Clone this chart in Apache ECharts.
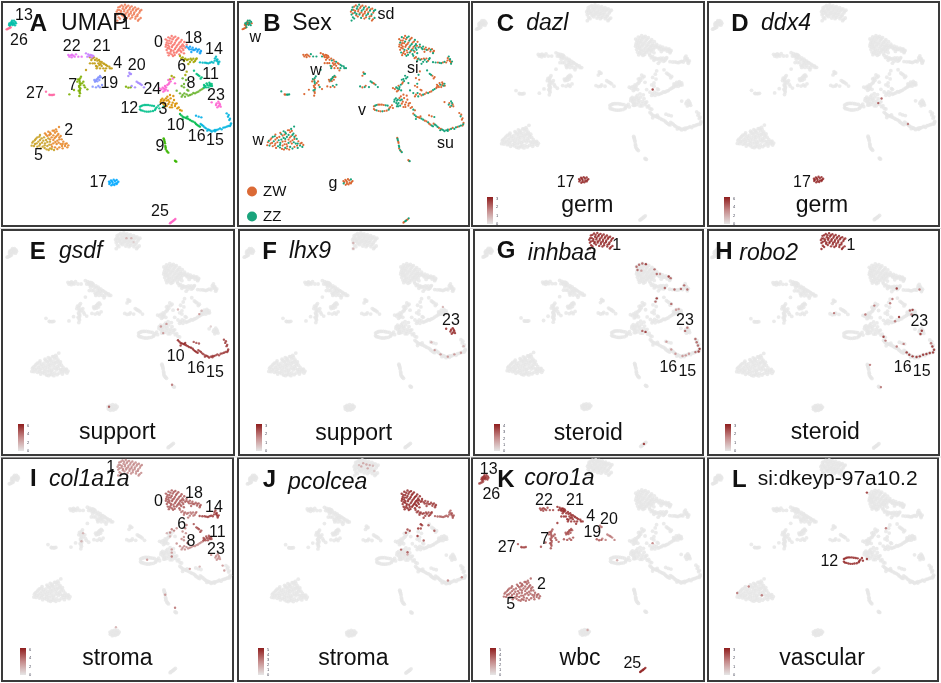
<!DOCTYPE html>
<html><head><meta charset="utf-8">
<style>html,body{margin:0;padding:0;background:#fff}#c{width:941px;height:683px}</style>
<script src="https://cdn.jsdelivr.net/npm/echarts@6/dist/echarts.min.js"></script>
</head><body><div id="c"></div>
<script>
// UMAP cells per cluster: flat x,y,sex (1 = ZW, 0 = ZZ)
const c0=[497,118,1,505,112,0,515,108,1,526,110,0,535,114,1,545,120,0,553,126,1,560,134,0,500,128,0,508,122,1,518,118,1,528,122,0,538,128,1,548,133,0,556,143,0,497,140,1,504,136,1,512,130,1,522,133,1,531,137,0,541,141,1,550,150,0,500,150,1,508,146,1,516,141,1,525,147,0,535,150,0,544,156,1,503,158,0,512,155,1,520,152,1,529,158,0,538,163,0,515,163,1,524,165,0,506,166,1,502,122,1,511,115,1,521,113,0,531,118,1,542,125,1,551,138,1,506,130,1,515,125,0,525,128,1,535,133,0,545,138,0,498,134,1,508,140,1,518,136,1,528,142,1,538,146,1,547,145,0,503,144,1,513,150,0,522,158,1,532,154,1,541,152,0,509,160,1,519,168,0,552,160,0];
const c1=[355,22,0,365,16,1,375,14,0,385,17,1,395,19,1,405,22,0,415,26,1,424,30,0,350,35,1,358,30,1,368,26,0,378,24,1,388,28,0,398,30,1,408,32,0,418,38,1,352,44,0,362,38,0,372,34,1,382,37,1,392,40,1,402,42,0,412,48,1,422,54,0,356,52,0,366,46,1,376,44,0,386,48,1,396,52,1,406,56,0,414,62,1,352,62,0,360,20,1,370,20,0,380,20,1,390,23,0,400,26,1,410,28,1,420,33,0,353,30,0,363,33,1,373,29,1,383,32,0,393,35,1,403,37,1,413,43,0,356,40,1,367,42,0,377,40,1,387,43,1,397,46,0,407,50,1,417,58,1,360,56,0,371,50,1,381,54,0,391,56,1];
const c2=[177,381,0,168,388,0,158,392,1,145,395,0,152,402,0,165,398,1,175,402,0,135,400,1,142,408,1,155,412,0,168,410,1,178,412,0,185,418,0,160,420,1,172,422,1,190,425,1,200,430,1,205,436,1,195,438,0,182,432,0,170,432,1,160,430,0,178,442,1,188,445,0,165,442,0,162,392,1,150,398,0,170,394,1,138,404,0,148,405,1,160,406,0,172,406,0,182,408,1,164,414,1,150,418,0,178,418,1,188,432,0,196,432,1,202,442,0,166,426,1,176,428,0,154,434,1,186,438,1,172,447,0,156,440,1];
const c3=[483,300,0,490,303,0,498,295,1,505,300,0,512,295,1,522,300,1,495,310,0,505,312,1,515,315,1,525,318,1,532,325,1,540,330,0,520,288,1,510,322,1,488,310,0,494,320,0,530,310,1,487,296,0,493,300,0,500,302,0,508,306,1,518,308,1,526,312,1,536,322,1,502,290,1,510,285,1,482,306,0,492,314,0,500,318,0,516,322,1,545,332,1];
const c4=[270,172,1,278,175,1,285,180,1,292,182,0,300,185,1,310,190,1,318,195,0,328,200,0,335,205,0,295,190,1,305,198,1,278,190,1,288,198,0,300,205,1,310,205,1,270,190,1,258,210,0,290,205,0,315,212,1,274,180,1,282,172,1,290,176,1,297,180,1,305,186,0,313,192,1,322,198,0,298,195,1,284,190,1,302,192,1,292,200,1,330,205,0,318,205,0];
const c5=[120,405,1,112,412,0,125,415,1,105,420,1,115,425,0,130,422,0,97,428,1,105,432,1,120,432,1,135,430,0,95,437,1,112,440,1,128,440,0,142,438,1,150,425,1,145,415,0,150,445,0,162,450,1,140,448,1,118,410,0,108,416,1,120,420,1,132,412,1,138,420,0,100,424,0,110,430,1,126,428,1,142,426,1,102,438,0,118,437,1,134,436,0,148,434,1,122,445,1,134,444,0,146,450,1,155,447,1];
const c6=[540,168,0,548,172,1,556,176,0,565,178,1,575,180,0,585,183,1,552,183,0,570,186,0,580,176,1,590,175,0,560,215,1,556,225,0,515,228,0,522,232,0,510,238,0,544,175,1,553,178,1,561,180,0,572,176,1,581,186,0,565,192,0,588,178,0];
const c7=[243,230,0,238,240,1,240,250,0,237,258,1,241,265,1,236,272,0,240,280,1,238,288,1,250,245,1,232,245,1,255,262,0,262,268,1,222,270,1,208,283,1,378,260,0,385,263,1,392,262,0,240,235,0,239,245,0,241,255,1,238,262,1,240,270,0,239,276,1,246,250,1,234,238,0,252,256,1];
const c8=[548,285,1,555,290,0,565,287,1,575,283,1,585,280,0,595,275,1,605,268,0,545,258,1,552,252,0,548,235,1,558,240,1,540,280,0,530,272,0,562,270,1,560,283,1,570,285,0,580,279,1,590,277,1,600,271,0,545,290,1,553,280,0,565,272,1,552,262,1,610,265,1];
const c9=[491,415,1,493,422,0,495,430,1,496,438,0,497,447,1,500,452,0,505,458,0,525,482,1,529,485,0,492,418,0,494,426,1,497,442,0,502,455,1,527,484,1];
const c10=[540,342,1,548,350,0,557,353,1,565,357,0,575,363,1,585,368,0,592,375,1,600,380,0,548,358,0,562,350,1,544,346,0,552,352,1,560,355,1,570,360,0,580,365,1,588,372,1,596,378,0];
const c11=[590,222,0,598,228,1,605,232,1,612,255,1,620,250,1,628,248,1,632,258,0,625,262,1,618,262,1,635,252,0,582,212,0,615,258,1,622,255,0,630,252,1,636,258,1,628,256,1,612,262,1,594,225,0,602,236,1];
const c12=[420,320,1,428,316,0,438,315,1,450,316,1,462,318,0,470,322,1,465,330,0,452,334,1,440,335,1,428,332,0,420,328,1,478,325,1,490,320,0,475,317,1,424,318,0,433,315,1,444,315,1,456,317,0,467,326,1,459,333,1,446,335,0,434,334,1,423,331,1];
const c13=[28,70,0,35,66,1,42,62,0,48,70,1,38,75,0,30,78,1,45,76,0,34,72,1,40,68,0,32,68,0,37,70,1,42,72,0,46,66,0,31,74,0,27,75,1,36,62,0];
const c14=[600,187,0,615,188,1,625,190,0,635,186,0,645,175,1,650,180,1,655,188,1,658,185,0,640,188,1,648,170,0,652,178,0,608,188,0,620,189,0,630,188,1,652,184,1,644,182,1,655,192,0];
const c15=[610,378,0,618,385,1,628,390,0,640,392,0,650,390,1,660,385,1,670,383,0,680,380,0,690,378,1,693,370,1,688,360,1,684,350,0,680,340,1,622,392,0,635,395,0,602,372,1,645,394,0,665,388,0,606,375,0,614,382,0,624,388,1,632,392,0,645,390,0,655,388,0,675,382,1,685,378,0,692,374,0,690,356,1,686,345,1];
const c16=[588,347,1,596,350,1,604,352,0];
const c17=[327,545,1,333,541,1,341,539,1,350,540,0,355,545,1,350,552,1,343,555,1,334,556,1,328,552,0,338,548,1,330,548,1,336,544,1,345,543,1,352,548,1,346,550,1,338,553,1];
const c18=[560,140,1,570,140,0,578,143,1,588,146,1,597,148,1,603,153,1,600,160,0,592,155,1,580,150,0,568,148,0,574,156,1,565,144,0,574,148,1,584,150,1,593,150,0,601,156,1];
const c19=[283,240,1,290,238,0,298,240,1,285,245,1,295,232,0,300,228,0,278,260,1,300,262,1,306,255,0,303,232,1,295,258,0,288,242,0,293,236,0,298,232,1,292,244,1,288,262,1];
const c20=[388,218,1,393,222,0,385,228,1,410,245,0,418,250,1,425,255,0,432,262,0,395,258,1,405,262,0,414,248,0,421,252,1,390,222,0];
const c21=[258,160,1,265,163,1,272,165,1,280,168,1,262,170,0,275,172,1,268,168,1,276,166,1];
const c22=[205,165,1,212,166,1,220,167,1,228,163,0,215,172,1,235,170,0,245,170,0,208,170,1,216,164,1,224,170,1];
const c23=[648,315,0,652,322,1,658,310,0,662,320,1,655,305,0,635,307,1,650,310,1,656,318,0,660,314,1];
const c24=[488,263,0,495,258,1,502,255,0,508,248,1,497,268,0,505,240,0,490,275,1,503,272,0,478,265,1,525,250,0,492,266,0,498,262,0,506,252,1,512,244,0,518,236,0,484,268,1,494,272,1];
const c25=[510,670,1,515,666,0,520,662,1,526,657,0,512,668,1,518,664,0,523,660,1];
const c26=[20,88,1,26,85,1,32,82,0,23,87,1,29,84,1];
const c27=[138,275,0,148,284,1,155,285,0,162,284,0,150,285,1,158,285,0];
const clusters=[c0,c1,c2,c3,c4,c5,c6,c7,c8,c9,c10,c11,c12,c13,c14,c15,c16,c17,c18,c19,c20,c21,c22,c23,c24,c25,c26,c27];
const clusterColors=['#F8766D','#F07F5A','#E8892C','#D89000','#C09B10','#C9A227','#A3A500','#7CAE00','#67B32A','#39B600','#00BB4E','#00BF7D','#00C08B','#00BFA8','#00B8C4','#00B4E0','#00AEE8','#00A9FF','#0FA0F5','#8494FF','#A58AFF','#C77CFF','#E76BF3','#FF62D0','#FD61D1','#FF61C3','#FF6C91','#FF67A4'];
const sexNames=['ZZ','ZW'];
const sexColors=['#0E9F75','#D9622B'];

// whole-cluster expression level per gene panel
const levelsC={17:3};
const levelsD={17:6};
const levelsE={10:6,15:5.5,16:5};
const levelsF={23:3};
const levelsG={1:4};
const levelsH={1:3};
const levelsI={0:4.6,1:3.2,18:4.4,6:3.8,14:5.4,11:5,8:3.2,23:3};
const levelsJ={0:5,18:4.4,6:4.4,14:3.8};
const levelsK={2:3.6,5:3.6,4:4.8,21:5,22:4.2,7:4,19:4,20:3,13:4.6,26:4,27:4,25:5};
const levelsL={12:3};
// single expressing cells: x,y,level
const cellsC=[548,272,3];
const cellsD=[532,300,5,522,314,5,612,378,4];
const cellsE=[383,30,2,398,30,2,405,42,1,330,545,5,522,478,4,488,300,3,505,292,3,540,248,2,605,262,3,612,252,2,495,320,3,640,300,1];
const cellsF=[352,45,1,352,62,1,618,385,1.5,640,392,1.5,660,385,1.5,680,380,1.5,688,360,1,600,372,1.5,590,348,1,625,240,1];
const cellsG=[505,112,3,515,108,3,526,110,4,497,118,3,500,128,3,512,130,2,553,126,3,560,140,3,570,140,2,597,148,4,603,153,3,585,183,3,615,188,3,635,186,3,645,175,3,655,188,3,560,215,4,556,225,3,620,250,2,628,248,2,605,232,3,525,318,4,515,315,3,648,315,3,655,305,3,680,340,3,684,350,3,688,360,3,693,370,4,690,378,4,680,380,3,660,385,2,640,392,2,618,385,2,590,348,2,605,372,2,650,390,2,520,662,4];
const cellsH=[656,312,3,652,322,3,628,248,3,620,250,2.5,625,262,2,587,270,3,575,283,2,580,183,3,649,186,2,567,215,2,560,228,2,512,235,2,485,262,2,390,258,2,540,330,3,546,342,2,580,360,2,601,352,2,499,416,2,532,484,2,610,378,3,618,385,3,628,390,3,640,392,3,650,390,3,660,385,3,670,383,3,680,380,3,690,378,3,693,370,3,688,360,3,684,350,2];
const cellsI=[245,240,2,240,265,2,515,290,3,515,300,3,515,312,4,440,322,3,500,240,2,510,250,2,530,225,3,570,350,3,600,343,2,670,340,3,675,355,3,495,430,3,525,470,4,345,530,2];
const cellsJ=[495,290,4,515,298,4,548,225,5,556,212,5,546,248,5,565,262,4,580,215,4,598,232,4,640,385,3,683,375,3,515,305,2,365,30,1.5,378,24,2,388,28,2,398,30,2,408,32,1.5,372,34,2,392,40,2,412,48,1];
const cellsK=[350,540,2,548,272,3,440,325,2];
const cellsL=[490,115,3,548,225,2,95,425,2,130,405,2,170,432,2];
const levelTicks={C:['3','2','1','0'],D:['6','4','2','0'],E:['6','4','2','0'],F:['3','2','1','0'],G:['4','3','2','1','0'],H:['3','2','1','0'],I:['6','4','2','0'],J:['5','4','3','2','1','0'],K:['5','4','3','2','1','0'],L:['3','2','1','0']};

// Panel layout
const layout={
 A:{o:[0,0],g:[2,2,234,226],f:[1,0,1,0]},
 B:{o:[236,0],g:[238,2,469,226],f:[.985,0,.997,0]},
 C:{o:[470,0],g:[472,2,704,226],f:[1,0,.984,1],bar:[487,197],max:3,lv:levelsC,cells:cellsC},
 D:{o:[706,0],g:[708,2,939,226],f:[.99,0,.982,1],bar:[724,197],max:6,lv:levelsD,cells:cellsD},
 E:{o:[0,228],g:[2,230,234,455],f:[.985,2,.982,1],bar:[18,424],max:6,lv:levelsE,cells:cellsE},
 F:{o:[236,228],g:[239,230,469,455],f:[.985,5,.982,1],bar:[256,424],max:3,lv:levelsF,cells:cellsF},
 G:{o:[470,228],g:[474,230,703,455],f:[.965,20,.977,1],bar:[494,424],max:4,lv:levelsG,cells:cellsG},
 H:{o:[706,228],g:[708,230,939,455],f:[.99,-2,.982,2],bar:[725,424],max:3,lv:levelsH,cells:cellsH},
 I:{o:[0,455],g:[2,458,233,681],f:[.985,8,.973,1],bar:[20,648],max:6,lv:levelsI,cells:cellsI},
 J:{o:[236,455],g:[238,458,469,681],f:[.97,15,.975,1],bar:[258,648],max:5,lv:levelsJ,cells:cellsJ},
 K:{o:[470,455],g:[472,458,704,681],f:[.985,8,.972,0],bar:[490,648],max:5,lv:levelsK,cells:cellsK},
 L:{o:[706,455],g:[708,458,938,681],f:[.985,0,.972,1],bar:[724,648],max:3,lv:levelsL,cells:cellsL}
};

// Text: label, x, y (crop units), kind
const textA=[['A',115,73,'b'],['UMAP',283,72,'h'],['13',72,48,'n'],['26',57,122,'n'],['1',378,75,'n'],['0',475,128,'n'],['18',580,115,'n'],['14',642,148,'n'],['22',215,140,'n'],['21',305,140,'n'],['4',353,190,'n'],['20',410,196,'n'],['6',545,200,'n'],['11',632,225,'n'],['8',573,252,'n'],['7',218,258,'n'],['19',328,250,'n'],['24',457,268,'n'],['23',648,288,'n'],['27',105,282,'n'],['12',388,325,'n'],['3',489,330,'n'],['10',527,378,'n'],['2',206,392,'n'],['5',115,467,'n'],['16',590,410,'n'],['15',645,423,'n'],['9',480,440,'n'],['17',295,547,'n'],['25',480,636,'n']];
const textB=[['B',108,73,'b'],['Sex',228,72,'h'],['w',58,114,'n'],['sd',450,45,'n'],['w',240,213,'n'],['si',530,205,'n'],['v',378,333,'n'],['w',67,423,'n'],['su',628,430,'n'],['g',291,550,'n']];
const textC=[['C',106,72,'b'],['dazl',232,72,'i'],['17',287,547,'n'],['germ',352,618,'c']];
const textD=[['D',102,72,'b'],['ddx4',240,72,'i'],['17',288,547,'n'],['germ',348,618,'c']];
const textE=[['E',113,72,'b'],['gsdf',242,72,'i'],['10',527,387,'n'],['16',588,423,'n'],['15',645,433,'n'],['support',352,615,'c']];
const textF=[['F',101,72,'b'],['lhx9',222,72,'i'],['23',645,278,'n'],['support',353,618,'c']];
const textG=[['G',108,70,'b'],['inhbaa',277,78,'i'],['1',440,52,'n'],['23',645,278,'n'],['16',595,420,'n'],['15',652,432,'n'],['steroid',355,616,'c']];
const textH=[['H',54,72,'b'],['robo2',188,78,'i'],['1',435,52,'n'],['23',640,280,'n'],['16',590,420,'n'],['15',647,432,'n'],['steroid',358,615,'c']];
const textI=[['I',100,72,'b'],['col1a1a',268,75,'i'],['1',332,38,'n'],['0',475,140,'n'],['18',582,115,'n'],['14',642,158,'n'],['6',545,210,'n'],['11',652,233,'n'],['8',573,260,'n'],['23',648,285,'n'],['stroma',352,612,'c']];
const textJ=[['J',100,75,'b'],['pcolcea',275,82,'i'],['stroma',352,612,'c']];
const textK=[['K',108,75,'b'],['coro1a',268,72,'i'],['13',56,45,'n'],['26',64,118,'n'],['22',222,138,'n'],['21',315,138,'n'],['4',362,185,'n'],['20',417,195,'n'],['19',367,233,'n'],['7',224,255,'n'],['27',110,278,'n'],['2',214,390,'n'],['5',122,450,'n'],['wbc',330,612,'c'],['25',487,625,'n']];
const textL=[['L',100,75,'b'],['si:dkeyp-97a10.2',395,72,'l'],['12',370,320,'n'],['vascular',348,612,'c']];
const textAll={A:textA,B:textB,C:textC,D:textD,E:textE,F:textF,G:textG,H:textH,I:textI,J:textJ,K:textK,L:textL};
const FAMILY='Liberation Sans';
const fonts={b:{fontSize:24,fontWeight:'bold'},h:{fontSize:23},i:{fontSize:23,fontStyle:'italic'},l:{fontSize:21},n:{fontSize:16},c:{fontSize:23}};

const triples=a=>{const r=[];for(let i=0;i<a.length;i+=3)r.push([a[i],a[i+1],a[i+2]]);return r;};
const grid=[],xAxis=[],yAxis=[],series=[],visualMap=[],graphic=[];
const ramp=['#e6e6e6','#c58a8a','#8f1d1d'];
Object.keys(layout).forEach((id,gi)=>{
  const p=layout[id],[l,t,r,b]=p.g,[sx,bx,sy,by]=p.f,[ox,oy]=p.o;
  grid.push({left:l,top:t,width:r-l,height:b-t,show:true,borderColor:'#3a3a3a',borderWidth:2,backgroundColor:'#fff',containLabel:false});
  const xv=px=>(((px-ox)*3)-bx)/sx, yv=px=>(((px-oy)*3)-by)/sy;
  xAxis.push({gridIndex:gi,type:'value',min:xv(l),max:xv(r),show:false});
  yAxis.push({gridIndex:gi,type:'value',inverse:true,min:yv(t),max:yv(b),show:false});
  const base={type:'scatter',xAxisIndex:gi,yAxisIndex:gi,silent:true,animation:false};
  if(id==='A'){
    clusters.forEach((c,k)=>series.push({...base,name:'c'+k,symbolSize:2.4,itemStyle:{color:clusterColors[k],opacity:.9},data:triples(c).map(q=>[q[0],q[1]])}));
  }else if(id==='B'){
    const all=clusters.flatMap(triples);
    [1,0].forEach(s=>series.push({...base,name:sexNames[s],symbolSize:2.2,itemStyle:{color:sexColors[s],opacity:.95},data:all.filter(q=>q[2]===s).map(q=>[q[0],q[1]])}));
  }else{
    const pts=[];
    clusters.forEach((c,k)=>triples(c).forEach(q=>pts.push([q[0],q[1],p.lv[k]||0])));
    triples(p.cells).forEach(q=>pts.push(q));
    pts.sort((a,b)=>a[2]-b[2]);
    const si=series.length;
    series.push({...base,name:id,symbolSize:v=>v[2]>0?2.4:3.8,data:pts});
    visualMap.push({type:'continuous',seriesIndex:si,dimension:2,min:0,max:p.max,show:false,inRange:{color:ramp}});
    graphic.push({type:'rect',silent:true,z:40,shape:{x:p.bar[0],y:p.bar[1],width:6,height:27},style:{fill:new echarts.graphic.LinearGradient(0,0,0,1,[{offset:0,color:ramp[2]},{offset:.5,color:ramp[1]},{offset:1,color:ramp[0]}])}});
    const ticks=levelTicks[id];
    ticks.forEach((tk,i)=>graphic.push({type:'text',silent:true,style:{x:p.bar[0]+9,y:p.bar[1]+2+i*25/(ticks.length-1),text:tk,fontFamily:FAMILY,fontSize:4,fill:'#445',textAlign:'left',textVerticalAlign:'middle'}}));
  }
  textAll[id].forEach(([s,zx,zy,k])=>graphic.push({type:'text',silent:true,z:50,style:{x:ox+zx/3,y:oy+zy/3,text:s,fontFamily:FAMILY,...fonts[k],fill:'#111',textAlign:'center',textVerticalAlign:'middle'}}));
});
graphic.push({type:'rect',silent:true,shape:{x:0,y:228,width:941,height:1},style:{fill:'#dcdcdc'}});
graphic.push({type:'rect',silent:true,shape:{x:0,y:456.5,width:941,height:1},style:{fill:'#dcdcdc'}});
const chart=echarts.init(document.getElementById('c'),null,{renderer:'canvas'});
chart.setOption({animation:false,backgroundColor:'#fff',grid,xAxis,yAxis,series,visualMap,graphic,
  legend:{data:['ZW','ZZ'],orient:'vertical',left:247,top:184,itemWidth:10,itemHeight:10,itemGap:10,icon:'circle',selectedMode:false,padding:0,textStyle:{fontFamily:FAMILY,fontSize:15,color:'#111',padding:[0,0,0,1]}}
});
</script></body></html>
